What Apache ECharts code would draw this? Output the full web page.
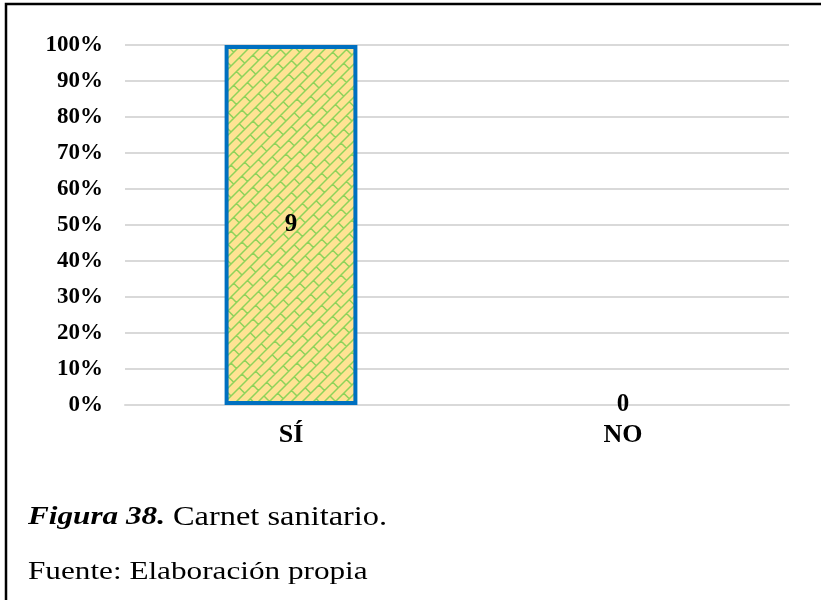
<!DOCTYPE html>
<html>
<head>
<meta charset="utf-8">
<script src="https://cdn.jsdelivr.net/npm/echarts@6/dist/echarts.min.js"></script>
<style>
  html, body { margin: 0; padding: 0; background: #fff; }
  #chart { width: 821px; height: 600px; }
</style>
</head>
<body>
<div id="chart"></div>
<script>
// Answers to "¿Tiene carnet sanitario?"
const categories = ['SÍ', 'NO'];
const counts = [9, 0];
const total = counts.reduce((a, b) => a + b, 0);

const serif = '"Liberation Serif", "Times New Roman", serif';

// Diagonal brick fill: pale yellow with green mortar lines.
// Courses run up-right every d px (in x+y), joints every p px along a
// course, shifted half a brick from one course to the next.
function brickPattern() {
  const T = 66, d = 11, p = 33;
  const c = document.createElement('canvas');
  c.width = T; c.height = T;
  const g = c.getContext('2d');
  g.fillStyle = '#FFE393';
  g.fillRect(0, 0, T, T);
  g.strokeStyle = '#8ED35A';
  g.lineWidth = 1.5;
  g.beginPath();
  for (let k = -2; k <= 14; k++) {
    const s = d * k;
    g.moveTo(-20, s + 20);
    g.lineTo(s + 20, -20);
  }
  for (let k = -2; k <= 14; k++) {
    const off = (((k % 2) + 2) % 2) * (p / 2);
    for (let cc = -198 + off; cc <= 198; cc += p) {
      const a = d * k, b = d * (k + 1);
      g.moveTo((a + cc) / 2, (a - cc) / 2);
      g.lineTo((b + cc) / 2, (b - cc) / 2);
    }
  }
  g.stroke();
  return c;
}

// Empty bars get no fill or outline; their label stays
const barData = counts.map(v => v === 0
  ? { value: v, itemStyle: { borderWidth: 0, color: 'rgba(0,0,0,0)' } }
  : v);

const chart = echarts.init(document.getElementById('chart'), null, { renderer: 'canvas' });

chart.setOption({
  animation: false,
  backgroundColor: '#ffffff',
  grid: { left: 125, right: 32, top: 45, bottom: 195 },
  xAxis: {
    type: 'category',
    data: categories,
    axisTick: { show: false },
    axisLine: { lineStyle: { color: '#D9D9D9', width: 2 } },
    axisLabel: {
      margin: 17,
      color: '#000',
      fontFamily: serif,
      fontWeight: 'bold',
      fontSize: 26
    }
  },
  yAxis: {
    type: 'value',
    min: 0,
    max: total,
    interval: total / 10,
    axisLine: { show: false },
    axisTick: { show: false },
    splitLine: { lineStyle: { color: '#D9D9D9', width: 2 } },
    axisLabel: {
      margin: 22,
      color: '#000',
      fontFamily: serif,
      fontWeight: 'bold',
      fontSize: 23,
      formatter: v => Math.round(v / total * 100) + '%'
    }
  },
  series: [{
    type: 'bar',
    stack: 'share',
    data: barData,
    barWidth: '40%',
    itemStyle: {
      color: { image: brickPattern(), repeat: 'repeat' },
      borderColor: '#0070C0',
      borderWidth: 4
    },
    label: {
      show: true,
      position: 'inside',
      color: '#000',
      fontFamily: serif,
      fontWeight: 'bold',
      fontSize: 25,
      formatter: p => String(p.value)
    }
  }],
  graphic: [
    {
      type: 'rect',
      shape: { x: 6, y: 4, width: 830, height: 620 },
      style: { fill: 'none', stroke: '#000', lineWidth: 2.5 },
      silent: true
    },
    {
      type: 'text',
      x: 28,
      y: 504,
      scaleX: 1.2,
      style: {
        text: '{b|Figura 38.}  {r|Carnet sanitario.}',
        rich: {
          b: { fontFamily: serif, fontWeight: 'bold', fontStyle: 'italic', fontSize: 26, fill: '#000' },
          r: { fontFamily: serif, fontSize: 27, fill: '#000' }
        }
      }
    },
    {
      type: 'text',
      x: 28,
      y: 559,
      scaleX: 1.2,
      style: {
        text: 'Fuente: Elaboración propia',
        fontFamily: serif,
        fontSize: 26,
        fill: '#000'
      }
    }
  ]
});
</script>
</body>
</html>
